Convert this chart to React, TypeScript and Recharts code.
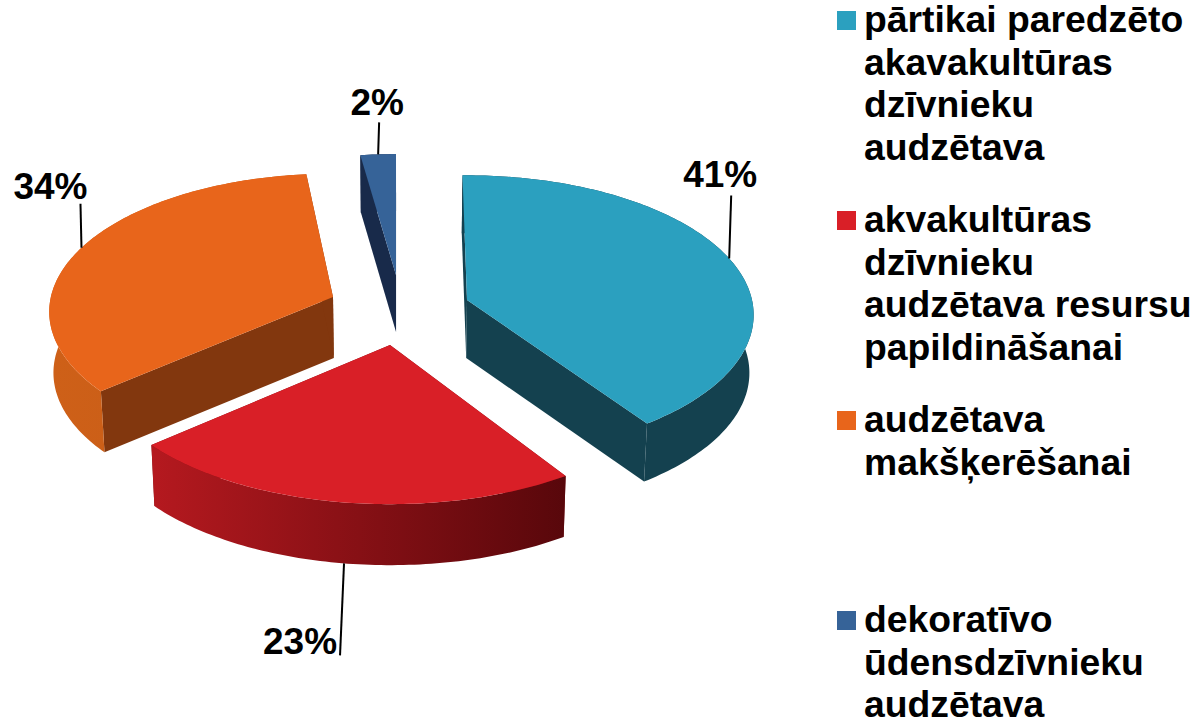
import React from 'react';
import { PieChart, Pie, Legend } from 'recharts';

const sliceNames = [
    'pārtikai paredzēto\nakavakultūras\ndzīvnieku\naudzētava',
    'akvakultūras\ndzīvnieku\naudzētava resursu\npapildināšanai',
    'audzētava\nmakšķerēšanai',
    'dekoratīvo\nūdensdzīvnieku\naudzētava',
];
const sliceValues = [41, 23, 34, 2];

const topColors = ['#2BA0BF', '#D91F27', '#E8651B', '#366398'];
const wallColors = ['#14414F', '#7A0F14', '#82370E', '#182A4A'];
const rimLeft = ['#14414F', '#B5191F', '#CE6018', '#182A4A'];
const rimRight = ['#14414F', '#58070B', '#C55C17', '#182A4A'];

// how far each slice is pulled out of the pie, plus small per slice fixes for the perspective
const explode = [
    { x: 67, y: -10, depth: 58, scale: 1, nudge: [1, -0.8] },
    { x: -10, y: 35, depth: 61, scale: 1.03, nudge: [1.4, 0.7] },
    { x: -67, y: -13, depth: 61, scale: 0.99, nudge: [1.6, 3.2] },
    { x: -4, y: -35, depth: 57, scale: 0.97, nudge: [1, 2] },
];
// leader line end and label text, relative to the rim point at the slice middle
const leaders = [
    { front: false, dx: 2, dy: -63, tx: -11, ty: -9 },
    { front: true, dx: -4, dy: 92, tx: -40, ty: -1 },
    { front: false, dx: -1, dy: -44, tx: -30, ty: -5 },
    { front: false, dx: 1, dy: -32, tx: -2, ty: -7 },
];

const tableData = sliceNames.map((name, i) => ({ name, value: sliceValues[i], fill: topColors[i] }));

const TILT = 138 / 285;
const PERSPECTIVE = 0.107;
const BASE_SCALE = 0.988; // underside of the pie is a bit narrower

// theta is clockwise from the back of the pie, in degrees
function project(theta: number, r: number) {
    const t = (theta * Math.PI) / 180;
    const w = 1 + PERSPECTIVE * Math.cos(t);
    return { x: (r * Math.sin(t)) / w, y: (-r * TILT * Math.cos(t)) / w };
}

function PieSlice(props: any) {
    const { cx, cy, outerRadius, startAngle, endAngle, index } = props;
    const off = explode[index];
    const ax = cx + off.x;
    const ay = cy + off.y;
    const t1 = 90 - startAngle + off.nudge[0];
    const t2 = 90 - endAngle + off.nudge[1];
    const r = outerRadius * off.scale;
    const d = off.depth;
    const baseX = (x: number) => cx + (x - cx) * BASE_SCALE;

    const arc: { x: number; y: number }[] = [];
    const steps = Math.max(4, Math.ceil(t2 - t1));
    for (let i = 0; i <= steps; i++) {
        const p = project(t1 + ((t2 - t1) * i) / steps, r);
        arc.push({ x: ax + p.x, y: ay + p.y });
    }
    const first = arc[0];
    const last = arc[arc.length - 1];

    const top = `M${ax},${ay} ` + arc.map(p => `L${p.x},${p.y}`).join(' ') + ' Z';
    const rim =
        arc.map((p, i) => `${i ? 'L' : 'M'}${p.x},${p.y}`).join(' ') +
        ' ' +
        [...arc].reverse().map(p => `L${baseX(p.x)},${p.y + d}`).join(' ') +
        ' Z';
    const wallA = `M${ax},${ay} L${first.x},${first.y} L${baseX(first.x)},${first.y + d} L${baseX(ax)},${ay + d} Z`;
    const wallB = `M${ax},${ay} L${last.x},${last.y} L${baseX(last.x)},${last.y + d} L${baseX(ax)},${ay + d} Z`;
    const gradId = `rim-${index}`;

    return (
        <g>
            <defs>
                <linearGradient id={gradId} x1="0" y1="0" x2="1" y2="0">
                    <stop offset="0%" stopColor={rimLeft[index]} />
                    <stop offset="100%" stopColor={rimRight[index]} />
                </linearGradient>
            </defs>
            <path d={wallA} fill={wallColors[index]} />
            <path d={wallB} fill={wallColors[index]} />
            <path d={rim} fill={`url(#${gradId})`} />
            <path d={top} fill={topColors[index]} />
        </g>
    );
}

function SliceLabel(props: any) {
    const { cx, cy, outerRadius, midAngle, index, value } = props;
    const off = explode[index];
    const l = leaders[index];
    const p = project(90 - midAngle + (off.nudge[0] + off.nudge[1]) / 2, outerRadius * off.scale);
    const x = cx + off.x + p.x;
    const y = cy + off.y + p.y + (l.front ? off.depth : 0);
    const ex = x + l.dx;
    const ey = y + l.dy;
    return (
        <g>
            <line x1={x} y1={y} x2={ex} y2={ey} stroke="#000" strokeWidth={2} />
            <text
                x={ex + l.tx}
                y={ey + l.ty}
                textAnchor="middle"
                fill="#000"
                fontSize={37}
                fontWeight="bold"
                fontFamily="'Liberation Sans', Arial, sans-serif"
            >
                {value}%
            </text>
        </g>
    );
}

// first line top of each legend entry; lines get their own tight box so none hangs off the page
const legendTops = [4, 204, 404, 604];
const LEGEND_STEP = 42.7;

function PieLegend({ payload }: any) {
    return (
        <div style={{ position: 'relative', width: 1194, height: 720 }}>
            {(payload || []).map((entry: any, i: number) => (
                <div key={i}>
                    <div
                        style={{
                            position: 'absolute',
                            left: 837,
                            top: legendTops[i] + 7,
                            width: 19,
                            height: 19,
                            background: entry.color,
                        }}
                    />
                    {String(entry.value).split('\n').map((line, j) => (
                        <div
                            key={j}
                            style={{
                                position: 'absolute',
                                left: 864,
                                top: legendTops[i] + j * LEGEND_STEP,
                                whiteSpace: 'nowrap',
                                fontFamily: "'Liberation Sans', Arial, sans-serif",
                                fontWeight: 'bold',
                                fontSize: 37.3,
                                lineHeight: '30px',
                                color: '#000',
                            }}
                        >
                            {line}
                        </div>
                    ))}
                </div>
            ))}
        </div>
    );
}

export default function App() {
    return (
        <div style={{ position: 'absolute', left: 0, top: 0, width: 1194, height: 720, overflow: 'hidden', background: '#fff' }}>
            <PieChart width={1194} height={720} margin={{ top: 0, right: 0, bottom: 0, left: 0 }}>
                <Pie
                    data={tableData}
                    dataKey="value"
                    nameKey="name"
                    cx={400}
                    cy={310}
                    outerRadius={285}
                    startAngle={92}
                    endAngle={-268}
                    stroke="none"
                    shape={PieSlice}
                    label={SliceLabel}
                    labelLine={false}
                    isAnimationActive={false}
                />
                <Legend content={PieLegend} itemSorter={null} wrapperStyle={{ left: 0, top: 0, width: 1194, height: 720 }} />
            </PieChart>
        </div>
    );
}
